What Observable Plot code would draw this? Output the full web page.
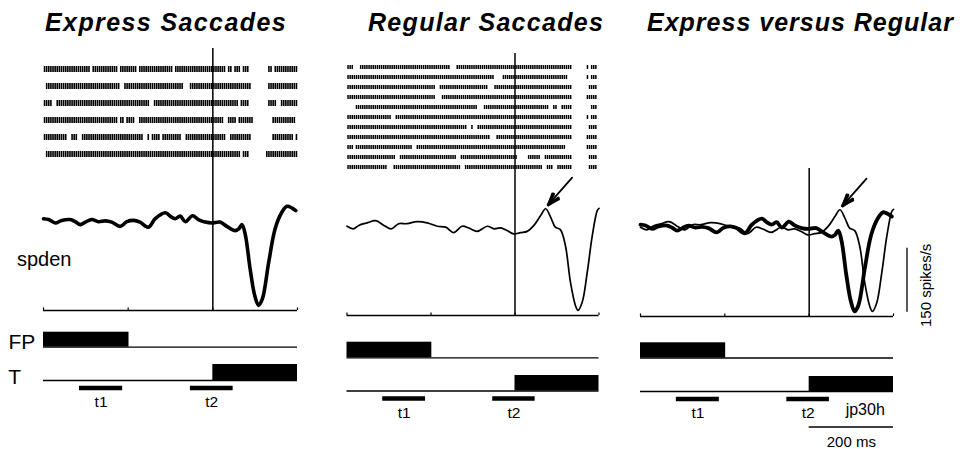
<!DOCTYPE html>
<html><head><meta charset="utf-8">
<script src="https://cdn.jsdelivr.net/npm/d3@7"></script>
<script src="https://cdn.jsdelivr.net/npm/@observablehq/plot@0.6"></script>
<style>
body{margin:0;background:#fff;}
#fig{position:relative;width:963px;height:449px;overflow:hidden;background:#fff;font-family:"Liberation Sans",Arial,Helvetica,sans-serif;color:#000;}
#fig svg{position:absolute !important;left:0;top:0;background:transparent !important;}
.title{position:absolute;font-weight:bold;font-style:italic;font-size:25px;letter-spacing:1px;white-space:nowrap;line-height:25px;}
.lab{position:absolute;white-space:nowrap;}
</style></head><body><div id="fig"></div>
<script>
// ---------------- data ----------------
const panelTitles = ["Express Saccades", "Regular Saccades", "Express versus Regular"];
const timeTicks = [-400, -200, 0, 200];           // ms, relative to target onset
const binMs = 5;                                   // raster bin width (ms)

// spike density (spikes/s) – express saccade trials
const expressT = [-400,-388,-372,-357,-337,-325,-313,-301,-286,-270,-254,-239,-219,-203,-187,-172,-152,-136,-112,-101,-89,-77,-65,-48,-34,-18,-2,17,33,53,61,69,77,88,99,108,117,132,147,163,175,187,196];
const expressV = [215,213,205,211,213,208,201,207,213,208,210,207,197,208,211,207,195,215,229,221,215,221,208,222,213,207,205,207,197,187,191,201,176,98,35,12,27,113,191,230,244,240,234];
// spike density (spikes/s) – regular saccade trials
const regularT = [-400,-385,-372,-352,-332,-312,-295,-277,-257,-233,-209,-185,-165,-146,-126,-110,-90,-66,-50,-35,-19,-3,13,29,45,61,73,85,96,108,120,132,144,150,160,172,184,196,200];
const regularV = [209,203,211,217,222,211,203,215,215,220,217,209,207,194,209,205,197,209,203,205,199,191,194,197,211,234,250,230,207,201,164,78,23,12,31,101,187,246,251];

// rasters: one string per trial, one char per 5 ms bin from -400 ms (1 = spike)
const rasterExpress = [
"1111111111 1111111111 1101111111 1111101111 1111011111 1111111111 1011111111 1111111111 1111110110 1110111000 0000001101 1111111111",
"0111111111 1111111111 1111111111 1111110011 1111111111 1111111111 1111110001 1111111111 1111111111 1111111100 0000001111 1111111111",
"1111001111 1111111111 1111111111 1111111111 1111111111 0011111111 1111111111 1111111111 1111111111 1101111000 0000001111 0011111111",
"1111111111 1111111111 1111111111 1111101101 1110011111 1111111111 1111111111 1111111111 1111100111 1011111110 0000000011 1111111110",
"1111111111 1001110011 1111111111 1111111111 1111111001 0111101111 1111100111 1111111111 1111110011 1111111100 0000000011 1111111101",
"0111111111 1111111111 1111111111 1111111111 1111111111 1111111111 1111111111 1111111111 1111111111 1110111000 0000011111 1111111111"
];
const rasterRegular = [
"1110001111 1111111111 1111111111 1111111111 1111111110 0011111111 1111111111 1111111111 1111111111 1111111111 1111111000 0000101110",
"1111111111 1111111111 1111111111 1111111111 1111111111 1111111111 1111111111 0000111111 1111111111 1111111111 1111100000 0000101110",
"1111111111 1111111111 1111111111 1111111111 1100111111 1111111111 1111111000 1111111111 1111111111 1111111111 1111111000 0000011110",
"1111111111 1111111111 1111111111 1111111111 1100011111 1111111111 1111111111 1111111111 1111111111 1111111111 1111111000 0000111110",
"0000111111 1111111111 1111111111 1111111111 1111111111 1111111111 1100011111 1111111111 1111111111 1111110011 0011111000 0000001110",
"1111111111 1111111111 1001111111 1111111111 1111111111 1111111111 1111111111 1111111111 1111111111 1111111111 1111111000 0000101110",
"1111111111 1111111111 1111111111 1111111111 1111111111 1111111001 0011111111 1111111111 1111111111 1111111111 1111111000 0000011110",
"1111111111 1111111111 1111111111 1111111111 1111111111 1111111111 1111111100 0111111111 1111111111 1111111111 1111111000 0000111110",
"1110111111 1111111111 1111111111 1001111111 1111111111 1111111111 1111111111 1111111111 1111111111 1111111111 1111000000 0000111110",
"1111111111 1111111111 1110011111 1111111111 1111111111 1100111111 1111111111 1111111111 1000001111 1100111111 1111111000 0000011110",
"1111111111 1111111110 0011111111 1111111111 1111111111 1111001111 1111111111 1111111111 1111111111 1110011100 1111111000 0000011110"
];

// behavioural events (ms)
const signalNames = ["FP", "T"];
const signalOn = [-400, 0];
const signalOff = [-198, 200];
const epochNames = ["t1", "t2"];
const epochStart = [-315, -53];
const epochEnd = [-213, 48];

// annotations
const arrowFrom = {t: 136, v: 323};
const arrowTo = {t: 79, v: 259};
const timeBarMs = [0, 200];
const timeBarLabel = "200 ms";
const rateBar = {t: 232, v0: 10, v1: 160};
const rateBarLabel = "150 spikes/s";
const cellLabel = "jp30h";

// ---------------- build ----------------
const W = 963, H = 449;
const PX_PER_SPIKE = 0.427;
const FONT = "Liberation Sans, Arial, Helvetica, sans-serif";
const fig = document.getElementById("fig");

const toSpikes = rows => rows.flatMap((s, trial) =>
  s.replace(/\s+/g, "").split("").flatMap((c, i) => c === "1" ? [{trial, t: -400 + binMs * i + binMs / 2}] : []));
const toSeries = (T, V) => T.map((t, i) => ({t, v: V[i]}));
const express = toSeries(expressT, expressV);
const regular = toSeries(regularT, regularV);
const signals = signalNames.map((name, i) => ({name, on: signalOn[i], off: signalOff[i]}));
const epochs = epochNames.map((name, i) => ({name, start: epochStart[i], end: epochEnd[i], mid: (epochStart[i] + epochEnd[i]) / 2}));

function add(opts) {
  const svg = Plot.plot(Object.assign({width: W, height: H, style: "background: transparent; overflow: visible;"}, opts));
  fig.appendChild(svg);
}

const panels = [
  {left: 43, right: 297, spTop: 48, spAxis: 310, raster: rasterExpress, rTop: 57.8, rBottom: 164.7, rPad: 0.635, rW: 1.6,
   fpTop: 331.7, fpBase: 346.7, tTop: 364, tBase: 380, curves: [[express, 3.6]], arrow: false, extras: false, titleX: 45, titleLS: 1.4},
  {left: 346.5, right: 598.5, spTop: 53, spAxis: 315, raster: rasterRegular, rTop: 57.3, rBottom: 177.5, rPad: 0.606, rW: 1.5,
   fpTop: 341.7, fpBase: 357.3, tTop: 375, tBase: 390.5, curves: [[regular, 1.7]], arrow: true, extras: false, titleX: 368, titleLS: 1.3},
  {left: 640, right: 893, spTop: 168, spAxis: 316, raster: null,
   fpTop: 342.3, fpBase: 357.5, tTop: 376, tBase: 391, curves: [[express, 3.8], [regular, 1.7]], arrow: true, extras: true, titleX: 647, titleLS: 1}
];

panels.forEach((p, k) => {
  const frameX = {marginLeft: p.left, marginRight: W - p.right, x: {domain: [-400, 200], axis: null}};

  // spike density panel
  const spMarks = [
    Plot.ruleY([0], {strokeWidth: 1.4}),
    Plot.ruleX(timeTicks, {y1: 0, y2: 6, strokeWidth: 1.2}),
    Plot.ruleX([0], {strokeWidth: 1.5}),
    ...p.curves.map(([s, w]) => Plot.line(s, {x: "t", y: "v", curve: "catmull-rom", strokeWidth: w, strokeLinejoin: "round", strokeLinecap: "round"}))
  ];
  if (p.arrow) {
    const arr = [{a: arrowFrom, b: arrowTo}];
    const opts = {x1: d => d.a.t, y1: d => d.a.v, x2: d => d.b.t, y2: d => d.b.v};
    spMarks.push(Plot.arrow(arr, {...opts, strokeWidth: 1.8, headLength: 11, headAngle: 44}));
    spMarks.push(Plot.arrow(arr, {...opts, strokeWidth: 3, headLength: 7, headAngle: 30, insetStart: 30}));
  }
  if (p.extras) {
    spMarks.push(Plot.ruleX([rateBar], {x: "t", y1: "v0", y2: "v1", strokeWidth: 1.3}));
    spMarks.push(Plot.text([rateBarLabel], {x: rateBar.t + 46, y: (rateBar.v0 + rateBar.v1) / 2 - 12, rotate: -90, fontSize: 15, fontFamily: FONT, fill: "black"}));
  }
  add({...frameX, marginTop: p.spTop, marginBottom: H - p.spAxis,
    y: {domain: [0, (p.spAxis - p.spTop) / PX_PER_SPIKE], axis: null}, marks: spMarks});

  // raster
  if (p.raster) {
    add({...frameX, marginTop: p.rTop, marginBottom: H - p.rBottom,
      y: {type: "band", domain: d3.range(p.raster.length), paddingInner: p.rPad, paddingOuter: p.rPad / 2, axis: null},
      marks: [Plot.tickX(toSpikes(p.raster), {x: "t", y: "trial", strokeWidth: p.rW})]});
  }

  // FP trace
  add({...frameX, marginTop: p.fpTop, marginBottom: H - p.fpBase, y: {domain: [0, 1], axis: null},
    marks: [
      Plot.rect(signals.filter(d => d.name === "FP"), {x1: "on", x2: "off", y1: 0, y2: 1, fill: "black"}),
      Plot.ruleY([0], {strokeWidth: 1.3})
    ]});

  // T trace + epochs
  const tMarks = [
    Plot.rect(signals.filter(d => d.name === "T"), {x1: "on", x2: "off", y1: 0, y2: 1, fill: "black"}),
    Plot.ruleY([0], {strokeWidth: 1.3}),
    Plot.ruleY(epochs, {x1: "start", x2: "end", y: 0, dy: 7.5, strokeWidth: 4.5}),
    Plot.text(epochs, {x: "mid", y: 0, dy: 22, text: "name", fontSize: 15.5, fontFamily: FONT, fill: "black"})
  ];
  if (p.extras) {
    tMarks.push(Plot.ruleY([{a: timeBarMs[0], b: timeBarMs[1]}], {x1: "a", x2: "b", y: 0, dy: 35.5, strokeWidth: 1.3}));
    tMarks.push(Plot.text([timeBarLabel], {x: (timeBarMs[0] + timeBarMs[1]) / 2, y: 0, dy: 50.5, fontSize: 15, fontFamily: FONT, fill: "black"}));
    tMarks.push(Plot.text([cellLabel], {x: 133, y: 0, dy: 18, fontSize: 16, fontFamily: FONT, fill: "black"}));
  }
  add({...frameX, marginTop: p.tTop, marginBottom: H - p.tBase, y: {domain: [0, 1], axis: null}, marks: tMarks});

  // title
  const t = document.createElement("div");
  t.className = "title";
  t.textContent = panelTitles[k];
  t.style.left = p.titleX + "px";
  t.style.top = "9.7px";
  t.style.letterSpacing = p.titleLS + "px";
  fig.appendChild(t);
});

// row labels (left of the first panel)
[["spden", 17, 249.4, 20], ["FP", 8.5, 330.6, 21], ["T", 8.3, 365.6, 21]].forEach(([txt, x, y, fs]) => {
  const d = document.createElement("div");
  d.className = "lab";
  d.textContent = txt;
  d.style.left = x + "px"; d.style.top = y + "px";
  d.style.fontSize = fs + "px"; d.style.lineHeight = fs + "px";
  fig.appendChild(d);
});
</script></body></html>
